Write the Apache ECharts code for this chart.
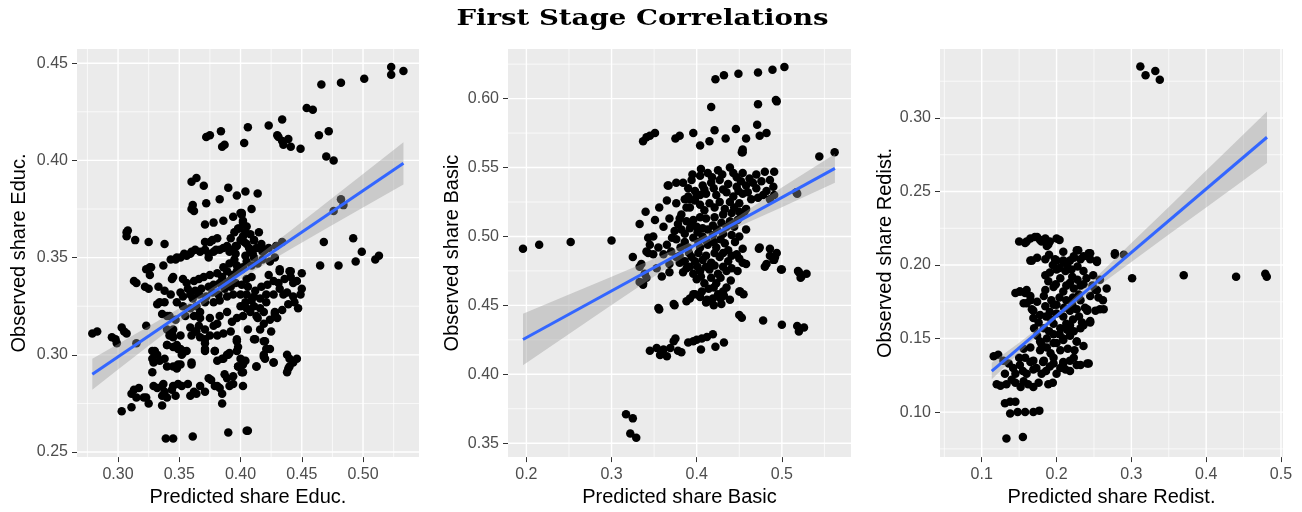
<!DOCTYPE html>
<html>
<head>
<meta charset="utf-8">
<script src="https://cdn.jsdelivr.net/npm/echarts@6/dist/echarts.min.js"></script>
<style>
  html, body { margin: 0; padding: 0; background: #ffffff; }
  #chart { width: 1302px; height: 512px; }
</style>
</head>
<body>
<div id="chart"></div>
<script>
// ---------- Panel 1: education share ----------
const educPoints = [
  [0.523,0.448],[0.523,0.444],[0.533,0.446],[0.501,0.442],[0.482,0.440],[0.466,0.439],[0.454,0.427],[0.459,0.426],
  [0.434,0.421],[0.423,0.418],[0.430,0.413],[0.431,0.412],[0.434,0.410],[0.435,0.408],[0.441,0.407],[0.439,0.411],
  [0.449,0.406],[0.464,0.413],[0.472,0.415],[0.470,0.402],[0.476,0.400],[0.406,0.417],[0.403,0.409],[0.384,0.415],
  [0.385,0.407],[0.387,0.408],[0.372,0.412],[0.375,0.413],[0.360,0.389],[0.364,0.391],[0.370,0.387],[0.390,0.386],
  [0.397,0.382],[0.404,0.384],[0.414,0.383],[0.383,0.380],[0.372,0.378],[0.361,0.377],[0.362,0.374],[0.360,0.375],
  [0.409,0.375],[0.394,0.371],[0.401,0.373],[0.402,0.369],[0.378,0.368],[0.371,0.367],[0.386,0.369],[0.398,0.365],
  [0.404,0.363],[0.415,0.363],[0.476,0.374],[0.482,0.380],[0.484,0.377],[0.468,0.358],[0.492,0.360],[0.499,0.353],
  [0.510,0.349],[0.513,0.351],[0.307,0.363],[0.308,0.364],[0.307,0.361],[0.314,0.359],[0.325,0.358],[0.338,0.357],
  [0.343,0.349],[0.348,0.350],[0.354,0.352],[0.360,0.353],
  [0.371,0.358],[0.377,0.359],[0.374,0.352],[0.380,0.354],[0.386,0.355],[0.391,0.353],[0.396,0.356],[0.403,0.358],
  [0.407,0.355],[0.411,0.359],[0.415,0.355],[0.410,0.352],[0.418,0.353],[0.423,0.355],[0.429,0.356],[0.434,0.358],
  [0.279,0.311],[0.283,0.312],[0.295,0.309],[0.298,0.308],[0.299,0.306],[0.303,0.314],[0.305,0.312],[0.307,0.311],
  [0.315,0.306],[0.323,0.315],[0.313,0.338],[0.315,0.337],[0.322,0.335],[0.325,0.334],[0.323,0.344],[0.326,0.345],
  [0.337,0.346],[0.344,0.339],[0.332,0.326],[0.334,0.327],[0.338,0.327],[0.340,0.320],[0.342,0.320],
  [0.328,0.302],[0.330,0.302],[0.332,0.300],[0.328,0.298],[0.329,0.296],[0.328,0.291],[0.334,0.297],[0.338,0.298],
  [0.340,0.294],[0.345,0.294],[0.349,0.295],[0.340,0.305],[0.345,0.304],[0.349,0.303],[0.352,0.300],[0.353,0.302],
  [0.340,0.313],[0.344,0.311],[0.345,0.309],[0.351,0.310],[0.360,0.295],
  [0.311,0.280],[0.313,0.282],[0.315,0.278],[0.317,0.283],[0.321,0.278],[0.323,0.278],[0.325,0.275],[0.311,0.273],
  [0.303,0.271],[0.329,0.284],[0.332,0.283],[0.336,0.284],[0.337,0.285],[0.338,0.281],[0.336,0.279],[0.340,0.278],
  [0.344,0.282],[0.345,0.284],[0.347,0.279],[0.336,0.274],[0.349,0.285],[0.352,0.284],
  [0.357,0.285],[0.359,0.279],[0.362,0.281],[0.364,0.280],[0.367,0.284],[0.371,0.281],[0.374,0.288],[0.376,0.287],
  [0.379,0.284],[0.381,0.284],[0.383,0.283],[0.385,0.280],[0.387,0.290],[0.389,0.288],[0.391,0.284],[0.385,0.275],
  [0.394,0.289],[0.394,0.285],[0.402,0.284],[0.401,0.291],
  [0.405,0.261],[0.406,0.261],[0.390,0.260],[0.361,0.258],[0.339,0.257],[0.345,0.257],
  [0.371,0.302],[0.379,0.302],[0.381,0.297],[0.385,0.298],[0.389,0.300],[0.391,0.301],[0.360,0.310],[0.364,0.312],
  [0.367,0.309],[0.371,0.308],[0.371,0.303],
  [0.397,0.308],[0.398,0.304],[0.400,0.298],[0.398,0.294],[0.402,0.291],[0.404,0.297],[0.412,0.308],[0.420,0.307],
  [0.421,0.303],[0.419,0.300],[0.420,0.298],[0.413,0.294],[0.427,0.296],[0.438,0.300],[0.440,0.298],[0.443,0.296],
  [0.439,0.293],[0.440,0.294],[0.446,0.298],[0.438,0.291],
  [0.347,0.349],[0.351,0.350],[0.356,0.351],[0.359,0.352],[0.363,0.354],[0.367,0.353],[0.371,0.354],[0.375,0.358],
  [0.381,0.360],[0.374,0.350],[0.378,0.353],[0.383,0.354],[0.389,0.356],[0.393,0.354],[0.396,0.352],
  [0.397,0.356],[0.400,0.359],[0.402,0.361],[0.405,0.357],[0.411,0.359],[0.413,0.355],[0.417,0.357],[0.420,0.354],
  [0.408,0.353],[0.411,0.350],[0.405,0.348],[0.397,0.346],[0.401,0.344],
  [0.399,0.365],[0.402,0.368],[0.401,0.372],[0.400,0.373],
  [0.325,0.344],[0.327,0.345],[0.326,0.341],[0.345,0.340],
  [0.353,0.339],[0.356,0.337],[0.362,0.338],[0.366,0.339],[0.370,0.340],[0.375,0.341],[0.381,0.342],[0.385,0.340],
  [0.389,0.343],[0.393,0.341],[0.397,0.343],[0.402,0.345],
  [0.351,0.332],[0.353,0.330],[0.359,0.331],[0.363,0.333],[0.368,0.334],[0.374,0.335],[0.378,0.336],[0.383,0.337],
  [0.389,0.337],[0.391,0.338],
  [0.348,0.327],[0.353,0.325],[0.359,0.324],[0.364,0.325],[0.371,0.327],[0.378,0.327],[0.383,0.328],[0.389,0.330],
  [0.394,0.331],[0.400,0.331],
  [0.405,0.331],[0.411,0.330],[0.416,0.329],[0.421,0.331],[0.427,0.331],[0.432,0.334],[0.438,0.332],[0.443,0.337],
  [0.450,0.334],[0.440,0.343],[0.450,0.342],[0.432,0.343],[0.423,0.341],[0.405,0.339],[0.409,0.340],
  [0.400,0.325],[0.405,0.324],[0.411,0.325],[0.416,0.324],[0.421,0.327],[0.428,0.322],[0.435,0.331],[0.443,0.330],
  [0.449,0.331],[0.432,0.344],[0.441,0.343],[0.465,0.346],[0.480,0.346],[0.494,0.348],
  [0.340,0.305],[0.342,0.310],[0.345,0.313],[0.348,0.305],[0.351,0.303],[0.353,0.301],[0.356,0.302],[0.351,0.295],
  [0.348,0.293],[0.360,0.296],
  [0.359,0.314],[0.363,0.312],[0.366,0.315],[0.371,0.313],[0.371,0.306],[0.367,0.319],
  [0.375,0.319],[0.378,0.315],[0.381,0.316],[0.383,0.320],[0.389,0.322],[0.393,0.317],[0.397,0.319],[0.402,0.320],
  [0.408,0.322],[0.413,0.320],[0.419,0.322],[0.428,0.321],
  [0.379,0.302],[0.386,0.298],[0.390,0.300],[0.397,0.307],[0.397,0.302],[0.402,0.297],[0.411,0.308],[0.419,0.307],
  [0.424,0.303],[0.419,0.299],[0.427,0.296],[0.413,0.294],[0.402,0.295],[0.398,0.294],
  [0.357,0.334],[0.361,0.329],[0.366,0.331],[0.372,0.330],[0.377,0.332],[0.382,0.331],[0.387,0.334],[0.392,0.335],
  [0.396,0.337],[0.401,0.336],[0.406,0.335],[0.412,0.333],[0.417,0.335],[0.422,0.336],[0.427,0.338],[0.431,0.337],
  [0.436,0.339],[0.441,0.340],[0.446,0.338],
  [0.404,0.327],[0.409,0.328],[0.414,0.319],[0.419,0.316],[0.424,0.318],[0.430,0.319],[0.434,0.323],[0.439,0.326],
  [0.444,0.327],[0.447,0.324],
  [0.386,0.345],[0.391,0.347],[0.395,0.349],[0.404,0.351],[0.409,0.346],[0.414,0.347],[0.418,0.349],[0.424,0.348],
  [0.428,0.350],
  [0.333,0.335],[0.338,0.333],[0.343,0.331],[0.336,0.321],[0.347,0.318],[0.355,0.320],[0.362,0.320],[0.367,0.322],
  [0.375,0.310],[0.381,0.310],[0.386,0.311],[0.392,0.312],[0.406,0.313],[0.416,0.313],[0.425,0.312],
  [0.395,0.363],[0.392,0.360],[0.405,0.366],[0.408,0.362]
];
const educFit = [[0.279, 0.2900], [0.533, 0.3985]];
const educBandX    = [0.279, 0.300, 0.330, 0.360, 0.385, 0.410, 0.440, 0.470, 0.500, 0.533];
const educBandLow  = [0.2820, 0.2924, 0.3071, 0.3215, 0.3328, 0.3428, 0.3540, 0.3650, 0.3758, 0.3876];
const educBandHigh = [0.2980, 0.3056, 0.3165, 0.3277, 0.3378, 0.3490, 0.3634, 0.3782, 0.3930, 0.4094];
const educXTicks = [0.30, 0.35, 0.40, 0.45, 0.50];
const educXMinor = [0.275, 0.325, 0.375, 0.425, 0.475, 0.525];
const educYTicks = [0.25, 0.30, 0.35, 0.40, 0.45];
const educYMinor = [0.275, 0.325, 0.375, 0.425];

// ---------- Panel 2: basic share ----------
const basicPoints = [
  [0.196,0.491],[0.215,0.494],[0.252,0.496],[0.300,0.497],[0.422,0.614],[0.432,0.617],[0.449,0.618],[0.472,0.619],
  [0.489,0.621],[0.503,0.623],[0.417,0.594],[0.472,0.596],[0.493,0.599],[0.494,0.598],
  [0.337,0.569],[0.341,0.572],[0.345,0.573],[0.351,0.575],[0.375,0.571],[0.380,0.573],[0.396,0.575],[0.404,0.566],
  [0.415,0.569],[0.421,0.577],[0.434,0.571],[0.446,0.578],[0.458,0.571],[0.454,0.563],[0.454,0.561],[0.471,0.581],
  [0.474,0.573],[0.482,0.575],[0.544,0.558],[0.562,0.561],[0.518,0.531],[0.491,0.530],
  [0.325,0.485],[0.333,0.509],[0.340,0.518],[0.356,0.521],[0.367,0.537],[0.365,0.526],[0.376,0.539],[0.474,0.492],
  [0.494,0.488],[0.490,0.483],
  [0.343,0.488],[0.333,0.478],[0.333,0.467],[0.337,0.465],[0.341,0.470],[0.356,0.447],[0.374,0.450],
  [0.345,0.417],[0.353,0.419],[0.357,0.414],[0.361,0.418],[0.365,0.413],[0.369,0.419],[0.373,0.424],[0.375,0.426],
  [0.378,0.417],[0.382,0.416],[0.390,0.423],[0.396,0.424],[0.400,0.425],[0.406,0.426],[0.412,0.427],[0.419,0.429],
  [0.405,0.418],[0.422,0.420],[0.432,0.423],
  [0.317,0.371],[0.325,0.368],[0.322,0.357],[0.329,0.354],
  [0.412,0.453],[0.420,0.450],[0.428,0.455],[0.431,0.460],[0.439,0.454],[0.451,0.460],[0.455,0.458],[0.453,0.441],
  [0.478,0.439],[0.500,0.436],[0.518,0.435],[0.520,0.431],[0.526,0.434],
  [0.392,0.455],[0.398,0.458],[0.406,0.460],[0.412,0.454],[0.388,0.453],
  [0.500,0.476],[0.520,0.474],[0.522,0.470],[0.529,0.473],[0.480,0.478],[0.486,0.486],[0.492,0.485],[0.473,0.491],
  [0.351,0.512],[0.361,0.507],[0.368,0.513],[0.366,0.537],
  [0.343,0.499],[0.349,0.500],[0.345,0.494],[0.341,0.489],[0.355,0.492],[0.349,0.487],
  [0.335,0.480],[0.339,0.473],[0.337,0.466],[0.353,0.477],[0.359,0.471],[0.368,0.474],
  [0.376,0.524],[0.382,0.516],[0.388,0.521],[0.392,0.527],[0.400,0.530],[0.390,0.535],[0.394,0.541],[0.384,0.539],
  [0.404,0.544],[0.413,0.546],[0.425,0.548],[0.439,0.550],[0.447,0.543],[0.454,0.546],[0.462,0.542],[0.470,0.545],
  [0.480,0.547],[0.491,0.547],
  [0.407,0.537],[0.417,0.539],[0.427,0.541],[0.437,0.538],[0.447,0.536],[0.458,0.537],[0.470,0.535],[0.482,0.533],
  [0.490,0.536],[0.517,0.532],
  [0.390,0.529],[0.404,0.530],[0.411,0.531],[0.423,0.530],[0.435,0.532],[0.443,0.529],[0.454,0.531],[0.464,0.527],
  [0.478,0.530],
  [0.392,0.521],[0.404,0.523],[0.415,0.524],[0.427,0.525],[0.439,0.525],[0.450,0.524],[0.458,0.520],
  [0.380,0.513],[0.388,0.511],[0.396,0.512],[0.404,0.514],[0.411,0.513],[0.421,0.514],[0.431,0.516],[0.441,0.517],
  [0.450,0.518],[0.456,0.518],
  [0.374,0.504],[0.382,0.505],[0.392,0.506],[0.400,0.507],[0.407,0.506],[0.419,0.508],[0.429,0.510],[0.439,0.511],
  [0.448,0.512],[0.458,0.505],
  [0.365,0.494],[0.376,0.498],[0.386,0.496],[0.396,0.499],[0.407,0.500],[0.419,0.501],[0.431,0.502],[0.441,0.501],
  [0.450,0.500],
  [0.361,0.487],[0.370,0.489],[0.380,0.486],[0.390,0.492],[0.404,0.492],[0.413,0.494],[0.423,0.492],[0.433,0.495],
  [0.445,0.496],[0.454,0.491],
  [0.368,0.480],[0.380,0.481],[0.388,0.477],[0.398,0.482],[0.407,0.483],[0.417,0.481],[0.427,0.485],[0.437,0.482],
  [0.447,0.487],[0.454,0.481],
  [0.384,0.474],[0.396,0.473],[0.404,0.475],[0.415,0.476],[0.425,0.473],[0.435,0.475],[0.448,0.475],[0.458,0.480],
  [0.400,0.469],[0.409,0.466],[0.423,0.466],[0.435,0.463],[0.450,0.460],[0.425,0.458],
  [0.396,0.458],[0.404,0.456],[0.411,0.452],[0.419,0.455],[0.429,0.451],
  [0.486,0.491],[0.491,0.483],[0.482,0.480],[0.499,0.476],[0.519,0.475],[0.523,0.471],
  [0.355,0.448],[0.373,0.451],[0.453,0.561],[0.450,0.443],
  [0.395,0.545],[0.405,0.549],[0.418,0.543],[0.430,0.545],[0.443,0.546],[0.452,0.540],[0.466,0.539],[0.476,0.540],
  [0.486,0.541],
  [0.398,0.533],[0.409,0.534],[0.420,0.535],[0.431,0.534],[0.449,0.533],[0.460,0.532],[0.472,0.528],[0.486,0.527],
  [0.386,0.527],[0.398,0.526],[0.409,0.519],[0.421,0.521],[0.433,0.520],[0.444,0.521],[0.452,0.515],
  [0.378,0.509],[0.386,0.502],[0.394,0.509],[0.401,0.503],[0.413,0.505],[0.424,0.505],[0.435,0.507],[0.444,0.507],
  [0.371,0.499],[0.381,0.492],[0.391,0.488],[0.402,0.496],[0.411,0.497],[0.420,0.496],[0.428,0.498],[0.437,0.490],
  [0.376,0.485],[0.386,0.482],[0.394,0.485],[0.402,0.488],[0.411,0.486],[0.421,0.488],[0.431,0.488],[0.441,0.486],
  [0.450,0.484],
  [0.392,0.478],[0.401,0.478],[0.411,0.478],[0.421,0.479],[0.431,0.478],[0.441,0.477],
  [0.405,0.471],[0.417,0.470],[0.428,0.470],[0.440,0.468],
  [0.414,0.462],[0.420,0.463],[0.432,0.457]
];
const basicFit = [[0.196, 0.4252], [0.5623, 0.5494]];
const basicBandX    = [0.196, 0.250, 0.300, 0.350, 0.400, 0.420, 0.450, 0.500, 0.5623];
const basicBandLow  = [0.4065, 0.4292, 0.4502, 0.4709, 0.4910, 0.4981, 0.5074, 0.5211, 0.5390];
const basicBandHigh = [0.4439, 0.4578, 0.4708, 0.4839, 0.4978, 0.5041, 0.5152, 0.5355, 0.5598];
const basicXTicks = [0.2, 0.3, 0.4, 0.5];
const basicXMinor = [0.25, 0.35, 0.45, 0.55];
const basicYTicks = [0.35, 0.40, 0.45, 0.50, 0.55, 0.60];
const basicYMinor = [0.375, 0.425, 0.475, 0.525, 0.575, 0.625];

// ---------- Panel 3: redistribution share ----------
const redistPoints = [
  [0.312,0.335],[0.319,0.329],[0.332,0.332],[0.338,0.326],
  [0.150,0.216],[0.160,0.216],[0.171,0.219],[0.178,0.217],[0.185,0.218],[0.191,0.216],[0.200,0.218],[0.204,0.217],
  [0.187,0.213],
  [0.165,0.203],[0.174,0.205],[0.185,0.204],[0.198,0.204],[0.209,0.203],[0.223,0.205],[0.229,0.210],[0.245,0.208],
  [0.254,0.203],[0.278,0.208],[0.290,0.207],
  [0.301,0.191],[0.370,0.193],[0.440,0.192],[0.479,0.194],[0.481,0.192],
  [0.133,0.082],[0.155,0.083],
  [0.131,0.106],[0.138,0.107],[0.145,0.107],
  [0.138,0.099],[0.148,0.100],[0.158,0.100],[0.169,0.100],[0.177,0.101],
  [0.125,0.118],[0.133,0.119],[0.145,0.120],[0.156,0.121],[0.162,0.119],[0.169,0.117],[0.176,0.120],[0.189,0.119],
  [0.195,0.120],
  [0.116,0.138],[0.122,0.139],[0.129,0.135],[0.136,0.133],
  [0.131,0.126],[0.142,0.130],[0.151,0.132],[0.158,0.137],[0.160,0.126],[0.169,0.129],[0.180,0.126],[0.191,0.131],
  [0.205,0.130],[0.218,0.128],[0.232,0.132],[0.243,0.133],
  [0.223,0.137],[0.209,0.133],[0.196,0.137],[0.182,0.134],[0.169,0.135],
  [0.145,0.181],[0.151,0.182],[0.158,0.181],[0.165,0.179],[0.174,0.175],[0.185,0.172],[0.196,0.173],[0.160,0.174],
  [0.169,0.169],
  [0.252,0.183],[0.267,0.184],[0.258,0.170],[0.252,0.169],[0.241,0.169],[0.245,0.162],[0.234,0.161],
  [0.227,0.148],[0.209,0.149],[0.196,0.147],[0.180,0.146],[0.165,0.144],[0.156,0.143],
  [0.245,0.204],[0.254,0.202],[0.209,0.209],[0.223,0.206],[0.232,0.204],[0.200,0.203],
  [0.158,0.215],[0.165,0.218],[0.174,0.219],[0.180,0.216],[0.189,0.214],
  [0.167,0.203],[0.209,0.202],[0.218,0.203],[0.227,0.210],[0.236,0.206],[0.243,0.208],[0.278,0.207],
  [0.249,0.193],[0.232,0.186],[0.218,0.188],[0.205,0.191],[0.191,0.195],
  [0.185,0.193],[0.200,0.197],[0.214,0.200],[0.196,0.185],[0.209,0.182],[0.223,0.184],[0.236,0.187],[0.245,0.179],
  [0.254,0.183],[0.263,0.170],[0.241,0.170],[0.232,0.176],
  [0.151,0.182],[0.160,0.183],[0.165,0.176],[0.183,0.179],[0.156,0.174],[0.167,0.170],
  [0.169,0.164],[0.178,0.166],[0.191,0.168],[0.200,0.167],[0.209,0.165],[0.218,0.169],[0.227,0.170],[0.238,0.171],
  [0.245,0.161],[0.236,0.159],[0.218,0.159],[0.205,0.157],[0.196,0.160],[0.183,0.157],
  [0.174,0.152],[0.187,0.150],[0.196,0.153],[0.209,0.150],[0.218,0.152],[0.227,0.148],[0.200,0.147],[0.187,0.144],
  [0.178,0.148],
  [0.165,0.134],[0.183,0.135],[0.196,0.133],[0.209,0.134],[0.218,0.135],[0.227,0.132],[0.241,0.133],
  [0.190,0.207],[0.195,0.200],[0.204,0.198],[0.212,0.196],[0.220,0.197],[0.228,0.199],[0.236,0.196],[0.189,0.189],
  [0.199,0.187],[0.213,0.186],[0.221,0.192],[0.228,0.190],[0.240,0.191],[0.204,0.178],[0.213,0.176],[0.222,0.178],
  [0.230,0.180],[0.193,0.176],[0.185,0.183],[0.200,0.173],[0.210,0.171],[0.221,0.173],[0.230,0.165],[0.222,0.163],
  [0.213,0.160],[0.193,0.163],[0.186,0.165],[0.176,0.161],[0.170,0.157],[0.190,0.155],[0.204,0.153],[0.214,0.156],
  [0.223,0.155],[0.232,0.157],[0.178,0.142],[0.192,0.140],[0.205,0.142],[0.215,0.143],[0.224,0.142],[0.236,0.145],
  [0.256,0.178],[0.262,0.176],[0.248,0.186],[0.258,0.190],[0.150,0.137],[0.145,0.126],[0.155,0.128],[0.173,0.130],
  [0.186,0.128],[0.200,0.126],[0.212,0.129],[0.140,0.122],[0.152,0.117],[0.120,0.119]
];
const redistFit = [[0.1134, 0.1279], [0.4813, 0.2869]];
const redistBandX    = [0.1134, 0.150, 0.200, 0.250, 0.300, 0.350, 0.400, 0.450, 0.4813];
const redistBandLow  = [0.1223, 0.1402, 0.1638, 0.1834, 0.2021, 0.2207, 0.2392, 0.2577, 0.2694];
const redistBandHigh = [0.1335, 0.1472, 0.1668, 0.1904, 0.2149, 0.2395, 0.2642, 0.2889, 0.3044];
const redistXTicks = [0.1, 0.2, 0.3, 0.4, 0.5];
const redistXMinor = [0.05, 0.15, 0.25, 0.35, 0.45];
const redistYTicks = [0.10, 0.15, 0.20, 0.25, 0.30];
const redistYMinor = [0.075, 0.125, 0.175, 0.225, 0.275, 0.325];

// ---------- drawing ----------
const SANS = 'Liberation Sans, Arial, Helvetica, sans-serif';

const panels = [
  { grid: { left: 77, top: 49, width: 342, height: 410 },
    xRange: [0.2665, 0.5457], yRange: [0.2474, 0.4573], xDec: 2, yDec: 2, yGap: 48,
    xName: 'Predicted share Educ.', yName: 'Observed share Educ.',
    points: educPoints, fit: educFit, bx: educBandX, blo: educBandLow, bhi: educBandHigh,
    xt: educXTicks, xm: educXMinor, yt: educYTicks, ym: educYMinor },
  { grid: { left: 508, top: 49, width: 343, height: 411 },
    xRange: [0.1784, 0.5812], yRange: [0.3399, 0.6360], xDec: 1, yDec: 2, yGap: 46,
    xName: 'Predicted share Basic', yName: 'Observed share Basic',
    points: basicPoints, fit: basicFit, bx: basicBandX, blo: basicBandLow, bhi: basicBandHigh,
    xt: basicXTicks, xm: basicXMinor, yt: basicYTicks, ym: basicYMinor },
  { grid: { left: 940, top: 49, width: 343, height: 410 },
    xRange: [0.0442, 0.5027], yRange: [0.0694, 0.3469], xDec: 1, yDec: 2, yGap: 45,
    xName: 'Predicted share Redist.', yName: 'Observed share Redist.',
    points: redistPoints, fit: redistFit, bx: redistBandX, blo: redistBandLow, bhi: redistBandHigh,
    xt: redistXTicks, xm: redistXMinor, yt: redistYTicks, ym: redistYMinor }
];

// white panel grid (major + minor) drawn from the tick arrays through the axis scales
function gridRenderer(p) {
  return function (params, api) {
    const cs = params.coordSys;
    const kids = [];
    const vLine = (v, w) => {
      const x = api.coord([v, p.yt[0]])[0];
      kids.push({ type: 'line', shape: { x1: x, y1: cs.y, x2: x, y2: cs.y + cs.height },
        style: { stroke: '#ffffff', lineWidth: w } });
    };
    const hLine = (v, w) => {
      const y = api.coord([p.xt[0], v])[1];
      kids.push({ type: 'line', shape: { x1: cs.x, y1: y, x2: cs.x + cs.width, y2: y },
        style: { stroke: '#ffffff', lineWidth: w } });
    };
    p.xm.forEach(v => vLine(v, 0.7));
    p.ym.forEach(v => hLine(v, 0.7));
    p.xt.forEach(v => vLine(v, 1.4));
    p.yt.forEach(v => hLine(v, 1.4));
    return { type: 'group', children: kids };
  };
}

// confidence ribbon around the fitted line
function ribbonRenderer(p) {
  return function (params, api) {
    const pts = [];
    for (let i = 0; i < p.bx.length; i++) pts.push(api.coord([p.bx[i], p.bhi[i]]));
    for (let i = p.bx.length - 1; i >= 0; i--) pts.push(api.coord([p.bx[i], p.blo[i]]));
    return { type: 'polygon', shape: { points: pts }, style: { fill: 'rgba(153,153,153,0.4)' } };
  };
}

const grid = [], xAxis = [], yAxis = [], series = [];
panels.forEach((p, i) => {
  grid.push(Object.assign({ show: true, backgroundColor: '#EBEBEB', borderWidth: 0 }, p.grid));
  xAxis.push({
    type: 'value', gridIndex: i, min: p.xRange[0], max: p.xRange[1],
    name: p.xName, nameLocation: 'middle', nameGap: 27,
    nameTextStyle: { color: '#000000', fontSize: 20, fontFamily: SANS },
    axisLine: { show: false },
    axisTick: { show: true, length: 5, lineStyle: { color: '#333333', width: 1 }, customValues: p.xt },
    axisLabel: { customValues: p.xt, formatter: v => v.toFixed(p.xDec), color: '#4D4D4D',
      fontSize: 16, fontFamily: SANS, margin: 9 },
    splitLine: { show: false }
  });
  yAxis.push({
    type: 'value', gridIndex: i, min: p.yRange[0], max: p.yRange[1],
    name: p.yName, nameLocation: 'middle', nameGap: p.yGap, nameRotate: 90,
    nameTextStyle: { color: '#000000', fontSize: 20, fontFamily: SANS },
    axisLine: { show: false },
    axisTick: { show: true, length: 5, lineStyle: { color: '#333333', width: 1 }, customValues: p.yt },
    axisLabel: { customValues: p.yt, formatter: v => v.toFixed(p.yDec), color: '#4D4D4D',
      fontSize: 16, fontFamily: SANS, margin: 9 },
    splitLine: { show: false }
  });
  series.push({
    type: 'custom', xAxisIndex: i, yAxisIndex: i, silent: true, z: 1,
    renderItem: gridRenderer(p), data: [[p.xt[0], p.yt[0]]]
  });
  series.push({
    type: 'scatter', xAxisIndex: i, yAxisIndex: i, z: 2, symbolSize: 8.5,
    itemStyle: { color: '#000000', opacity: 1 }, data: p.points
  });
  series.push({
    type: 'custom', xAxisIndex: i, yAxisIndex: i, silent: true, z: 3,
    renderItem: ribbonRenderer(p), data: [[p.bx[0], p.blo[0]]]
  });
  series.push({
    type: 'line', xAxisIndex: i, yAxisIndex: i, z: 4, symbol: 'none',
    lineStyle: { color: '#3366FF', width: 3 }, data: p.fit
  });
});

const chart = echarts.init(document.getElementById('chart'), null, { renderer: 'canvas' });
chart.setOption({
  animation: false,
  backgroundColor: '#ffffff',
  graphic: [{
    type: 'text', x: 642.5, y: 19, scaleX: 1.2,
    style: { text: 'First Stage Correlations', fill: '#000000', align: 'center', verticalAlign: 'middle',
      font: 'bold 23px "DejaVu Serif", "Liberation Serif", serif' }
  }],
  grid, xAxis, yAxis, series
});
</script>
</body>
</html>
